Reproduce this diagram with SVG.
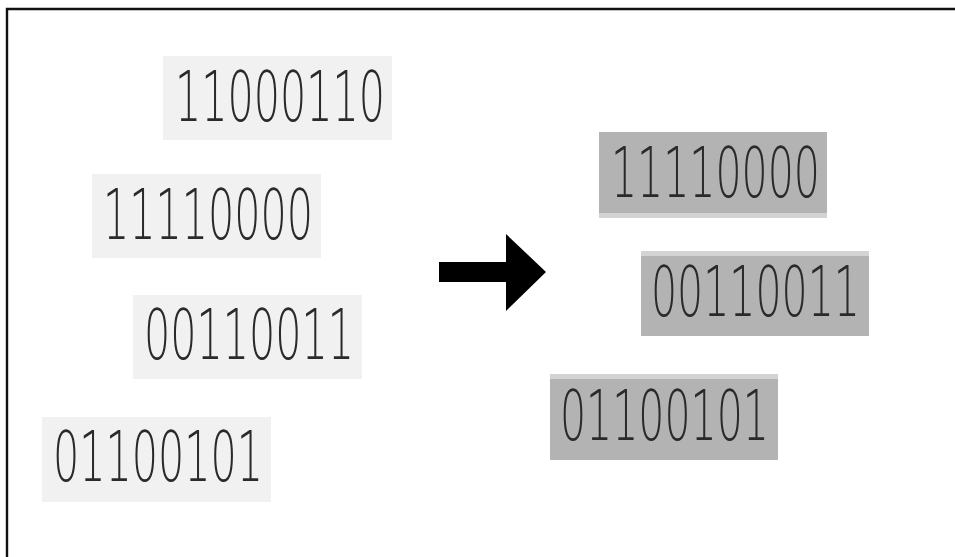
<svg xmlns="http://www.w3.org/2000/svg" width="955" height="557" viewBox="0 0 955 557">
  <style>
    .light { fill: #f1f1f1; }
    .dark { fill: #b3b3b3; }
    .edge { fill: #d3d3d3; }
    .bits { font-family: "DejaVu Sans", "Liberation Sans", sans-serif; font-weight: 200; font-size: 70px; fill: #2a2a2a; }
  </style>
  <rect width="955" height="557" fill="#ffffff"/>
  <!-- frame (open towards right and bottom) -->
  <path d="M7,557 V9 H955" fill="none" stroke="#111" stroke-width="2.4"/>

  <!-- unordered codes -->
  <g id="code-11000110">
    <rect class="light" x="163" y="56" width="229" height="84"/>
    <text class="bits" x="175" y="121" textLength="210" lengthAdjust="spacingAndGlyphs">11000110</text>
  </g>
  <g id="code-11110000-a">
    <rect class="light" x="92" y="174" width="229" height="84"/>
    <text class="bits" x="103" y="239" textLength="210" lengthAdjust="spacingAndGlyphs">11110000</text>
  </g>
  <g id="code-00110011-a">
    <rect class="light" x="133" y="295" width="229" height="84"/>
    <text class="bits" x="144" y="359" textLength="210" lengthAdjust="spacingAndGlyphs">00110011</text>
  </g>
  <g id="code-01100101-a">
    <rect class="light" x="42" y="417" width="229" height="85"/>
    <text class="bits" x="53" y="481" textLength="210" lengthAdjust="spacingAndGlyphs">01100101</text>
  </g>

  <!-- connector -->
  <g id="connectors">
    <polygon points="439,262 506,262 506,234 546,272 506,311 506,282 439,282" fill="#000"/>
  </g>

  <!-- selected codes -->
  <g id="code-11110000-b">
    <rect class="edge" x="599" y="132" width="228" height="86"/>
    <rect class="dark" x="599" y="132" width="228" height="81"/>
    <text class="bits" x="611" y="197" textLength="209" lengthAdjust="spacingAndGlyphs">11110000</text>
  </g>
  <g id="code-00110011-b">
    <rect class="edge" x="641" y="251" width="228" height="85"/>
    <rect class="dark" x="641" y="256" width="228" height="80"/>
    <text class="bits" x="651" y="316" textLength="209" lengthAdjust="spacingAndGlyphs">00110011</text>
  </g>
  <g id="code-01100101-b">
    <rect class="edge" x="550" y="374" width="228" height="86"/>
    <rect class="dark" x="550" y="379" width="228" height="81"/>
    <text class="bits" x="560" y="440" textLength="209" lengthAdjust="spacingAndGlyphs">01100101</text>
  </g>
</svg>
